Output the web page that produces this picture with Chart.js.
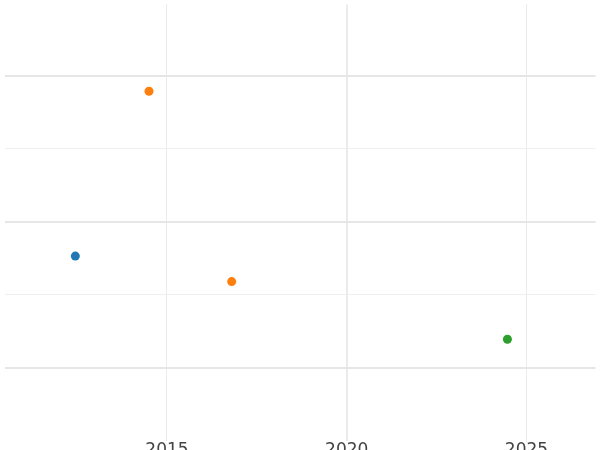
<!DOCTYPE html>
<html>
<head>
<meta charset="utf-8">
<script src="https://cdn.jsdelivr.net/npm/chart.js@4"></script>
<style>
  html, body { margin: 0; padding: 0; background: #fff; }
  #wrap { width: 600px; height: 450px; }
</style>
</head>
<body>
<div id="wrap"><canvas id="chart"></canvas></div>
<script>
// Points
const blueX = [2012.45];
const blueY = [0.765];
const orangeX = [2014.5, 2016.8];
const orangeY = [1.895, 0.59];
const greenX = [2024.47];
const greenY = [0.195];
const xTickValues = [2015, 2020, 2025];
const yGridValues = [0, 0.5, 1, 1.5, 2];

function toPoints(xs, ys) {
    return xs.map((x, i) => ({ x: x, y: ys[i] }));
}

function series(xs, ys, color) {
    return {
        data: toPoints(xs, ys),
        backgroundColor: color,
        borderColor: color,
        pointRadius: 4.5,
        pointBorderWidth: 0
    };
}

new Chart(document.getElementById('chart'), {
    type: 'scatter',
    data: {
        datasets: [
            series(blueX, blueY, '#1f77b4'),
            series(orangeX, orangeY, '#ff7f0e'),
            series(greenX, greenY, '#2ca02c')
        ]
    },
    options: {
        responsive: true,
        maintainAspectRatio: false,
        animation: false,
        layout: { padding: { left: -5, right: -5, top: -4, bottom: -11 } },
        plugins: { legend: { display: false }, tooltip: { enabled: false } },
        scales: {
            x: {
                type: 'linear',
                min: 2010.48,
                max: 2026.92,
                afterBuildTicks: axis => { axis.ticks = xTickValues.map(v => ({ value: v })); },
                grid: {
                    color: '#ebebeb',
                    lineWidth: ctx => ctx.tick && ctx.tick.value === 2020 ? 2 : 1,
                    drawTicks: false
                },
                border: { display: false },
                ticks: {
                    color: '#444',
                    padding: 0,
                    font: { family: 'DejaVu Sans', size: 17 },
                    callback: v => String(v)
                }
            },
            y: {
                min: -0.5,
                max: 2.49,
                afterBuildTicks: axis => { axis.ticks = yGridValues.map(v => ({ value: v })); },
                grid: {
                    color: ctx => ctx.tick && Number.isInteger(ctx.tick.value) ? '#e6e6e6' : '#efefef',
                    lineWidth: ctx => ctx.tick && Number.isInteger(ctx.tick.value) ? 2 : 1,
                    drawTicks: false
                },
                border: { display: false },
                ticks: { display: false }
            }
        }
    }
});
</script>
</body>
</html>
